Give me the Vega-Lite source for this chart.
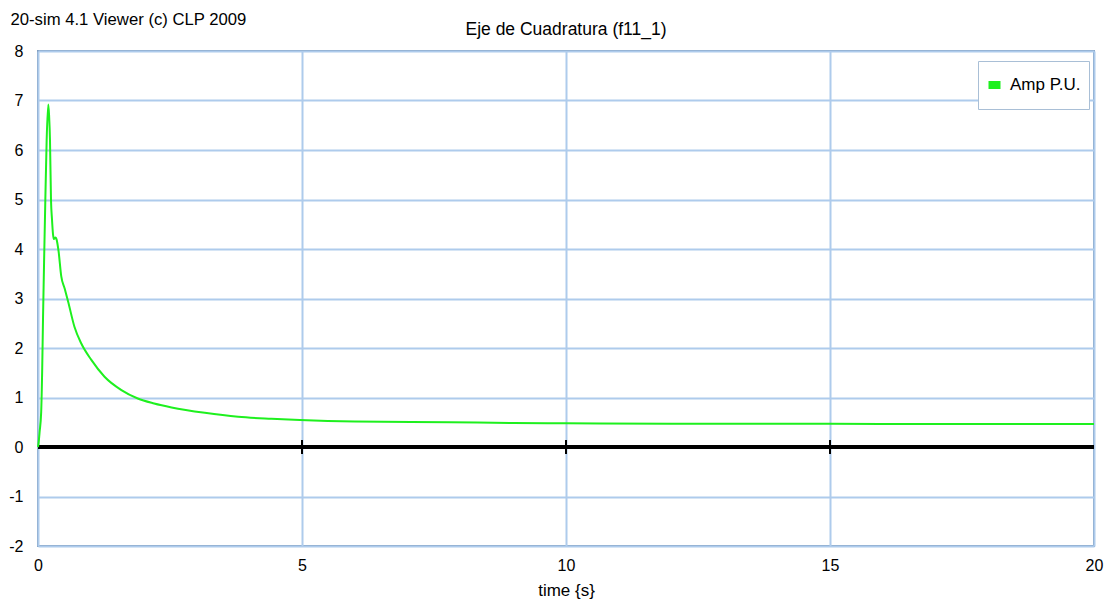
{
  "$schema": "https://vega.github.io/schema/vega-lite/v6.json",
  "width": 1056,
  "height": 495,
  "autosize": {"type": "none"},
  "padding": {"left": 38, "top": 51, "right": 16, "bottom": 63},
  "background": "white",
  "config": {
    "font": "Liberation Sans, Arial, sans-serif",
    "view": {"stroke": "#7f9dbf", "strokeWidth": 2}
  },
  "title": {
    "text": "Eje de Cuadratura (f11_1)",
    "anchor": "middle",
    "fontSize": 17.5,
    "fontWeight": "normal",
    "font": "Liberation Sans, Arial, sans-serif",
    "color": "#000000",
    "baseline": "alphabetic",
    "offset": 0,
    "dy": 41
  },
  "datasets": {
    "curve": [
      {"t": 0, "v": 0, "s": "Amp P.U."},
      {"t": 0.015, "v": 0.12, "s": "Amp P.U."},
      {"t": 0.03, "v": 0.3, "s": "Amp P.U."},
      {"t": 0.06, "v": 0.7, "s": "Amp P.U."},
      {"t": 0.08, "v": 1.6, "s": "Amp P.U."},
      {"t": 0.095, "v": 2.6, "s": "Amp P.U."},
      {"t": 0.12, "v": 4.0, "s": "Amp P.U."},
      {"t": 0.139, "v": 5.0, "s": "Amp P.U."},
      {"t": 0.164, "v": 6.2, "s": "Amp P.U."},
      {"t": 0.195, "v": 6.92, "s": "Amp P.U."},
      {"t": 0.21, "v": 6.7, "s": "Amp P.U."},
      {"t": 0.227, "v": 6.2, "s": "Amp P.U."},
      {"t": 0.246, "v": 5.0, "s": "Amp P.U."},
      {"t": 0.265, "v": 4.6, "s": "Amp P.U."},
      {"t": 0.284, "v": 4.3, "s": "Amp P.U."},
      {"t": 0.3, "v": 4.2, "s": "Amp P.U."},
      {"t": 0.33, "v": 4.23, "s": "Amp P.U."},
      {"t": 0.35, "v": 4.2, "s": "Amp P.U."},
      {"t": 0.39, "v": 3.95, "s": "Amp P.U."},
      {"t": 0.44, "v": 3.45, "s": "Amp P.U."},
      {"t": 0.505, "v": 3.2, "s": "Amp P.U."},
      {"t": 0.57, "v": 2.94, "s": "Amp P.U."},
      {"t": 0.69, "v": 2.43, "s": "Amp P.U."},
      {"t": 0.82, "v": 2.09, "s": "Amp P.U."},
      {"t": 1.01, "v": 1.76, "s": "Amp P.U."},
      {"t": 1.26, "v": 1.42, "s": "Amp P.U."},
      {"t": 1.58, "v": 1.15, "s": "Amp P.U."},
      {"t": 1.89, "v": 0.98, "s": "Amp P.U."},
      {"t": 2.2, "v": 0.88, "s": "Amp P.U."},
      {"t": 2.53, "v": 0.8, "s": "Amp P.U."},
      {"t": 3.16, "v": 0.69, "s": "Amp P.U."},
      {"t": 3.79, "v": 0.61, "s": "Amp P.U."},
      {"t": 4.42, "v": 0.57, "s": "Amp P.U."},
      {"t": 4.96, "v": 0.545, "s": "Amp P.U."},
      {"t": 6.0, "v": 0.515, "s": "Amp P.U."},
      {"t": 7.8, "v": 0.5, "s": "Amp P.U."},
      {"t": 9.0, "v": 0.485, "s": "Amp P.U."},
      {"t": 10.0, "v": 0.48, "s": "Amp P.U."},
      {"t": 12.0, "v": 0.47, "s": "Amp P.U."},
      {"t": 14.0, "v": 0.47, "s": "Amp P.U."},
      {"t": 16.0, "v": 0.465, "s": "Amp P.U."},
      {"t": 18.0, "v": 0.465, "s": "Amp P.U."},
      {"t": 20.0, "v": 0.465, "s": "Amp P.U."}
    ],
    "ticks": [{"t": 5}, {"t": 10}, {"t": 15}]
  },
  "layer": [
    {
      "data": {"name": "curve"},
      "mark": {"type": "rule", "color": "#000000", "strokeWidth": 3},
      "encoding": {
        "y": {
          "datum": 0,
          "type": "quantitative",
          "scale": {"domain": [-2, 8], "nice": false, "zero": false},
          "axis": {
            "values": [-2, -1, 0, 1, 2, 3, 4, 5, 6, 7, 8],
            "labelExpr": "toString(datum.value)",
            "grid": true,
            "gridColor": "#aecbec",
            "gridWidth": 2,
            "gridOpacity": 1,
            "domain": false,
            "ticks": false,
            "labelFontSize": 16,
            "labelColor": "#000000",
            "labelPadding": 15,
            "title": "20-sim 4.1 Viewer (c) CLP 2009",
            "titleAngle": 0,
            "titleAlign": "left",
            "titleBaseline": "alphabetic",
            "titleX": -28,
            "titleY": -27,
            "titleFontSize": 16.7,
            "titleFontWeight": "normal",
            "titleColor": "#000000"
          }
        }
      }
    },
    {
      "data": {"name": "ticks"},
      "mark": {"type": "rule", "color": "#000000", "strokeWidth": 2},
      "encoding": {
        "x": {"field": "t", "type": "quantitative", "scale": {"domain": [0, 20], "nice": false}},
        "y": {"datum": -0.14, "type": "quantitative"},
        "y2": {"datum": 0.14}
      }
    },
    {
      "data": {"name": "curve"},
      "mark": {"type": "line", "strokeWidth": 2, "interpolate": "monotone"},
      "encoding": {
        "x": {
          "field": "t",
          "type": "quantitative",
          "scale": {"domain": [0, 20], "nice": false},
          "axis": {
            "values": [0, 5, 10, 15, 20],
            "grid": true,
            "gridColor": "#aecbec",
            "gridWidth": 2,
            "gridOpacity": 1,
            "domain": false,
            "ticks": false,
            "labelFontSize": 16,
            "labelColor": "#000000",
            "labelPadding": 11,
            "labelFlush": false,
            "title": "time {s}",
            "titleFontSize": 17,
            "titleFontWeight": "normal",
            "titleColor": "#000000",
            "titlePadding": 9
          }
        },
        "y": {"field": "v", "type": "quantitative"},
        "color": {
          "field": "s",
          "type": "nominal",
          "scale": {"range": ["#1ef01e"]},
          "legend": {
            "title": null,
            "orient": "none",
            "legendX": 940,
            "legendY": 10,
            "fillColor": "#ffffff",
            "strokeColor": "#a9bfd6",
            "padding": 8,
            "symbolType": "M-1,-0.667H1V0.667H-1Z",
            "symbolSize": 144,
            "symbolStrokeWidth": 0,
            "symbolFillColor": "#1ef01e",
            "labelFontSize": 17,
            "labelColor": "#000000",
            "labelOffset": 7,
            "clipHeight": 32
          }
        }
      }
    }
  ]
}
